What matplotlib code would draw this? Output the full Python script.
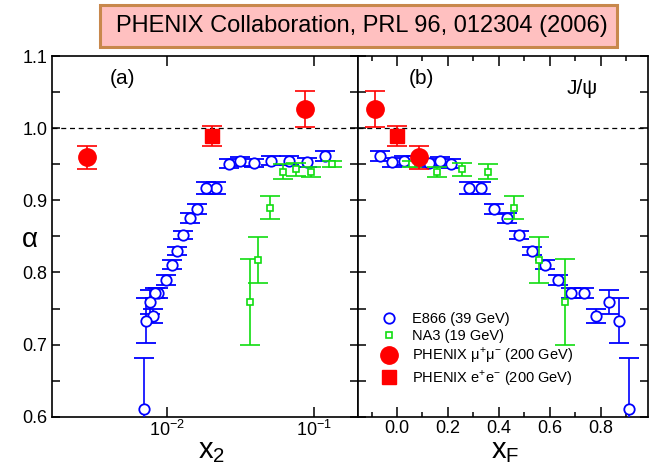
import matplotlib
matplotlib.use("Agg")
import matplotlib.pyplot as plt
from matplotlib.lines import Line2D
from matplotlib.patches import Rectangle
from matplotlib.ticker import MultipleLocator, NullLocator

plt.rcParams['font.family'] = ['Liberation Sans', 'DejaVu Sans']
plt.rcParams['mathtext.fontset'] = 'custom'
plt.rcParams['mathtext.rm'] = 'Liberation Sans'

# E866 (39 GeV), ordered by xF
e866_xf = [-0.065, -0.020, 0.026, 0.075, 0.125, 0.170, 0.212, 0.281, 0.331, 0.379, 0.431,
           0.480, 0.529, 0.582, 0.631, 0.684, 0.732, 0.780, 0.830, 0.872, 0.911]
e866_x2 = [0.1194, 0.0892, 0.0679, 0.0509, 0.0392, 0.0313, 0.0263, 0.0214, 0.0183, 0.0160, 0.0143,
           0.0129, 0.0116, 0.0107, 0.0098, 0.0087, 0.0082, 0.0080, 0.0076, 0.0072, 0.0070]
e866_alpha = [0.962, 0.953, 0.955, 0.955, 0.952, 0.954, 0.951, 0.917, 0.917, 0.888, 0.876,
              0.852, 0.830, 0.811, 0.789, 0.772, 0.772, 0.740, 0.759, 0.733, 0.611]
e866_err = [0.007, 0.006, 0.006, 0.006, 0.006, 0.006, 0.006, 0.008, 0.008, 0.007, 0.007,
            0.006, 0.006, 0.006, 0.007, 0.007, 0.007, 0.010, 0.017, 0.031, 0.070]

# NA3 (19 GeV)
na3_xf = [0.059, 0.157, 0.257, 0.359, 0.460, 0.559, 0.660]
na3_x2 = [0.1333, 0.0953, 0.0754, 0.0612, 0.0501, 0.0417, 0.0366]
na3_alpha = [0.950, 0.940, 0.943, 0.940, 0.890, 0.817, 0.759]
na3_err = [0.004, 0.007, 0.009, 0.010, 0.016, 0.032, 0.060]

# PHENIX (200 GeV)
mumu_xf = [-0.085, 0.087]
mumu_x2 = [0.0868, 0.00282]
mumu_alpha = [1.027, 0.960]
mumu_err = [0.025, 0.016]
ee_xf = [0.0]
ee_x2 = [0.0203]
ee_alpha = [0.989]
ee_err = [0.014]

blue = '#0000ff'
green = '#11dd11'
red = '#ff0000'

fig = plt.figure(figsize=(6.49, 4.65), dpi=100)
W, H = 649.0, 465.0
bottom = (H - 416.7) / H
height = 360.5 / H
axL = fig.add_axes([52 / W, bottom, 305.5 / W, height])
axR = fig.add_axes([357.5 / W, bottom, 290.5 / W, height])

err_kw = dict(linestyle='none', elinewidth=1.2, capsize=7.5, capthick=1.2)


def draw(ax, xe, xn, xmu, xee):
    ax.errorbar(xe, e866_alpha, yerr=e866_err, fmt='o', ms=7.5, mfc='white', mec=blue,
                mew=1.3, ecolor=blue, zorder=3, **err_kw)
    ax.errorbar(xn, na3_alpha, yerr=na3_err, fmt='s', ms=5, mfc='white', mec=green,
                mew=1.2, ecolor=green, zorder=4, **err_kw)
    ax.errorbar(xmu, mumu_alpha, yerr=mumu_err, fmt='o', ms=12.5, color=red,
                ecolor=red, zorder=5, **err_kw)
    ax.errorbar(xee, ee_alpha, yerr=ee_err, fmt='s', ms=10.5, color=red,
                ecolor=red, zorder=5, **err_kw)
    ax.axhline(1.0, color='k', lw=0.9, ls=(0, (4, 3)), zorder=1)
    ax.set_ylim(0.6, 1.1)
    ax.yaxis.set_major_locator(MultipleLocator(0.1))
    ax.yaxis.set_minor_locator(MultipleLocator(0.05))
    ax.yaxis.set_major_formatter(lambda v, p: f'{v:.1f}')
    ax.tick_params(which='both', direction='in', top=True, right=True, labelsize=13,
                   width=1.1, pad=3.5)
    ax.tick_params(axis='x', which='both', pad=2.5)
    ax.tick_params(axis='y', which='both', length=6)
    for s in ax.spines.values():
        s.set_linewidth(1.2)


draw(axL, e866_x2, na3_x2, mumu_x2, ee_x2)
axL.set_xscale('log')
axL.set_xlim(0.00164, 0.198)
axL.set_xticks([1e-2, 1e-1])
axL.set_xticklabels([r'$\mathregular{10^{-2}}$', r'$\mathregular{10^{-1}}$'])
axL.xaxis.set_minor_locator(NullLocator())
axL.tick_params(axis='x', which='major', length=7)

draw(axR, e866_xf, na3_xf, mumu_xf, ee_xf)
axR.set_xlim(-0.155, 0.985)
axR.xaxis.set_major_locator(MultipleLocator(0.2))
axR.xaxis.set_minor_locator(MultipleLocator(0.1))
axR.xaxis.set_major_formatter(lambda v, p: f'{v:.1f}' if v > -0.05 else '')
axR.tick_params(axis='x', which='major', length=7)
axR.tick_params(axis='x', which='minor', length=3.5)
axR.tick_params(labelleft=False)

axL.text(0.232, 0.939, '(a)', transform=axL.transAxes, ha='center', va='center', fontsize=15)
axR.text(0.219, 0.939, '(b)', transform=axR.transAxes, ha='center', va='center', fontsize=15)
axR.text(0.773, 0.911, 'J/ψ', transform=axR.transAxes, ha='center', va='center', fontsize=15)

fig.text(30 / W, 1 - 240 / H, 'α', fontsize=20, ha='center', va='center')
fig.text(212 / W, 1 - 458 / H, r'$\mathregular{x_2}$', fontsize=21, ha='center', va='baseline')
fig.text(505 / W, 1 - 458 / H, r'$\mathregular{x_F}$', fontsize=21, ha='center', va='baseline')

handles = [
    Line2D([], [], ls='none', marker='o', ms=7.5, mfc='white', mec=blue, mew=1.3),
    Line2D([], [], ls='none', marker='s', ms=5, mfc='white', mec=green, mew=1.2),
    Line2D([], [], ls='none', marker='o', ms=12.5, color=red),
    Line2D([], [], ls='none', marker='s', ms=10.5, color=red),
]
labels = ['E866 (39 GeV)', 'NA3 (19 GeV)',
          r'PHENIX μ$^{+}$μ$^{-}$ (200 GeV)', r'PHENIX e$^{+}$e$^{-}$ (200 GeV)']
axR.legend(handles, labels, loc='upper left', bbox_to_anchor=(0.083, 0.291), frameon=False,
           fontsize=10.5, handlelength=1.0, handletextpad=1.05, labelspacing=0.2,
           borderpad=0, borderaxespad=0)

fig.patches.append(Rectangle((100 / W, 1 - 47 / H), 517 / W, 42 / H, transform=fig.transFigure,
                             facecolor='#ffc0c0', edgecolor='#c8884c', lw=2.2, zorder=0))
fig.text(362 / W, 1 - 26 / H, 'PHENIX Collaboration, PRL 96, 012304 (2006)', fontsize=17,
         ha='center', va='center')

fig.savefig('out.png', dpi=100)
